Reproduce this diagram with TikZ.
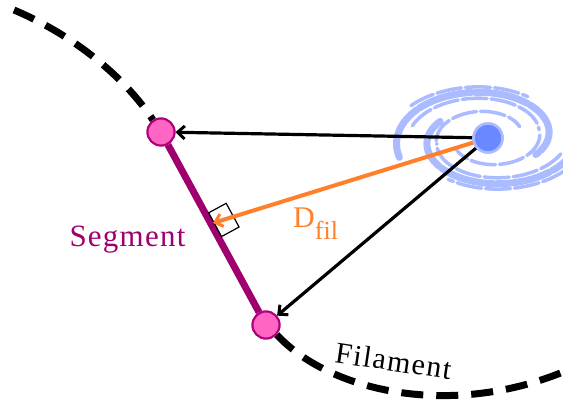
\documentclass[tikz,border=0pt]{standalone}
\usepackage{fontspec}
\setmainfont{Liberation Serif}
\usetikzlibrary{arrows.meta,calc}
\definecolor{segpurple}{HTML}{A0006E}
\definecolor{nodepink}{HTML}{FF66C4}
\definecolor{nodeedge}{HTML}{B0007E}
\definecolor{distorange}{HTML}{FF7F2A}
\definecolor{galarm}{HTML}{AABBFF}
\definecolor{galcore}{HTML}{6A88FF}
\begin{document}
\begin{tikzpicture}[x=1pt,y=-1pt,
  endpoint/.style={circle,fill=nodepink,draw=nodeedge,line width=2pt,minimum size=27pt,inner sep=0pt},
  core/.style={circle,fill=galcore,draw=galarm,line width=2.5pt,minimum size=29pt,inner sep=0pt},
  filament/.style={line width=7pt,dash pattern=on 22pt off 13pt},
  pointer/.style={line width=3.2pt,-{Straight Barb[length=7pt,width=13pt,line width=3pt]}},
  arm/.style={galarm,line width=7pt,line cap=round,dash pattern=on 55pt off 3pt},
  thinarm/.style={galarm,line width=3.5pt,line cap=round,dash pattern=on 25pt off 4pt},
  label/.style={inner sep=0pt,anchor=base},
]
\useasboundingbox (0,0) rectangle (563,403);

% galaxy: two main spiral arms, each with extra strands, plus inner arms
\draw[arm] plot[domain=160:390,samples=80,smooth]
  ({488+(86-0.17*(\x-209))*cos(\x)},{138+0.6*(86-0.17*(\x-209))*sin(\x)});
\draw[thinarm] plot[domain=195:345,samples=60,smooth]
  ({488+(76-0.17*(\x-209))*cos(\x)},{138+0.6*(76-0.17*(\x-209))*sin(\x)});
\draw[thinarm] plot[domain=215:300,samples=40,smooth]
  ({488+(95-0.17*(\x-209))*cos(\x)},{138+0.6*(95-0.17*(\x-209))*sin(\x)});
\draw[arm] plot[domain=-12:210,samples=80,smooth]
  ({488+(86-0.17*(\x-29))*cos(\x)},{138+0.6*(86-0.17*(\x-29))*sin(\x)});
\draw[thinarm] plot[domain=20:170,samples=60,smooth]
  ({488+(76-0.17*(\x-29))*cos(\x)},{138+0.6*(76-0.17*(\x-29))*sin(\x)});
\draw[thinarm] plot[domain=35:120,samples=40,smooth]
  ({488+(95-0.17*(\x-29))*cos(\x)},{138+0.6*(95-0.17*(\x-29))*sin(\x)});
\draw[thinarm] plot[domain=175:330,samples=60,smooth]
  ({488+(52-0.1*(\x-175))*cos(\x)},{138+0.62*(52-0.1*(\x-175))*sin(\x)});
\draw[thinarm] plot[domain=-5:150,samples=60,smooth]
  ({488+(52-0.1*(\x+5))*cos(\x)},{138+0.62*(52-0.1*(\x+5))*sin(\x)});

% segment end points and galaxy core
\node[endpoint] (p1) at (161,132) {};
\node[endpoint] (p2) at (266,325) {};
\node[core] (gal) at (488,138) {};
\coordinate (foot) at (213,223);

% filament on both sides of the segment
\draw[filament] (14,10) .. controls (80,38) and (128,82) .. (p1.124);
\draw[filament] (p2.-42) .. controls (330,392) and (450,418) .. (563,372);

% segment
\draw[segpurple,line width=7pt] (p1) -- (p2);

% right angle mark at the foot of the distance
\begin{scope}[shift={(foot)},rotate=-61.45]
  \draw[line width=1.2pt] (-11pt,1pt) rectangle (16pt,21pt);
\end{scope}

% pointers from the galaxy
\draw[pointer] (gal) -- (p1);
\draw[pointer] (gal) -- (p2);
\draw[pointer,distorange,line width=4pt] (gal) -- (foot);

% redraw end points above the segment
\node[endpoint] at (p1) {};
\node[endpoint] at (p2) {};
\node[core] at (gal) {};

% labels
\node[label,text=segpurple] (seglabel) at (127.5,247)
  {\fontsize{31}{36}\selectfont\addfontfeatures{LetterSpace=4}Segment};
\node[label,anchor=base west,text=distorange] (dlabel) at (293,228)
  {\fontsize{30}{34}\selectfont D\raisebox{-12pt}{\fontsize{26}{30}\selectfont fil}};
\node[label,rotate=-8.5] (fillabel) at (392,371)
  {\fontsize{30}{34}\selectfont\addfontfeatures{LetterSpace=5}Filament};
\end{tikzpicture}
\end{document}
